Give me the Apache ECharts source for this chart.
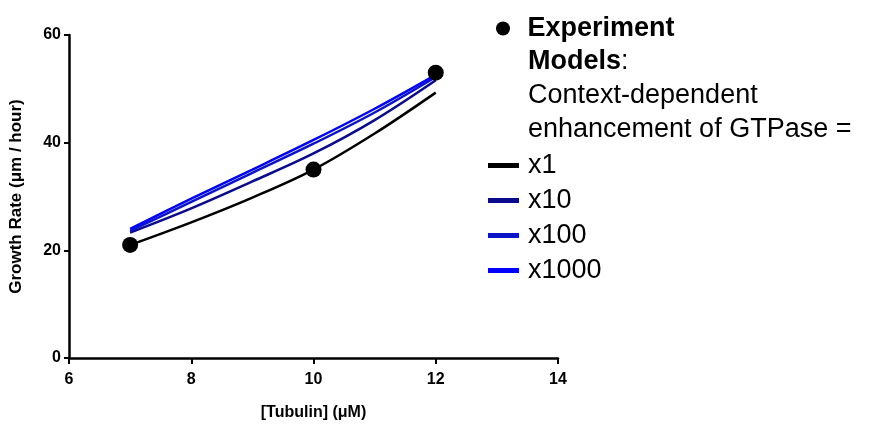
<!DOCTYPE html>
<html>
	<head>
		<meta charset="utf-8" />
		<title>Growth rate vs tubulin</title>
		<style type="text/css">
			html, body {margin:0;padding:0;background:#fff;}
			#chart {width:881px;height:430px;}
		</style>
	</head>
	<body>
		<div id="chart"></div>
		<script src="https://cdn.jsdelivr.net/npm/echarts@6/dist/echarts.min.js"></script>
		<script type="text/javascript">
			// data
			const tubulin = [7, 8, 9, 10, 11, 12];
			const expX = [7, 10, 12];
			const expY = [21, 35, 53];
			const modelX1 = [21.0, 25.2, 29.8, 35.0, 41.7, 49.3];
			const modelX10 = [23.3, 27.8, 32.8, 38.0, 44.2, 51.6];
			const modelX100 = [23.6, 29.0, 34.4, 39.8, 45.6, 52.2];
			const modelX1000 = [24.0, 29.6, 35.0, 40.5, 46.3, 52.6];
			const xTicks = [6, 8, 10, 12, 14];
			const yTicks = [0, 20, 40, 60];

			const FONT = "'Liberation Sans', Arial, sans-serif";
			const pair = (xs, ys) => xs.map((x, i) => [x, ys[i]]);

			const chart = echarts.init(document.getElementById('chart'));

			const lineSeries = (name, data, color) => ({
				name: name,
				type: 'line',
				smooth: 0.35,
				showSymbol: false,
				symbol: 'none',
				color: color,
				lineStyle: {width: 2.5, color: color},
				data: pair(tubulin, data),
				z: 3
			});

			const opt = {
				animation: false,
				textStyle: {fontFamily: FONT},
				grid: {left: 68, right: 323, top: 35, bottom: 72},
				legend: [{
					orient: 'vertical',
					left: 496,
					top: 15,
					padding: 0,
					itemWidth: 31,
					itemHeight: 14,
					icon: 'circle',
					data: ['Experiment'],
					textStyle: {fontFamily: FONT, fontSize: 27, fontWeight: 'bold', color: '#000', lineHeight: 27, padding: [0, 0, 0, 4]}
				}, {
					orient: 'vertical',
					left: 488,
					top: 152,
					padding: 0,
					itemWidth: 31,
					itemHeight: 5,
					itemGap: 8,
					icon: 'rect',
					data: ['x1', 'x10', 'x100', 'x1000'],
					textStyle: {fontFamily: FONT, fontSize: 27, color: '#000', lineHeight: 27, padding: [0, 0, 0, 4]}
				}],
				graphic: [{
					type: 'text',
					left: 528,
					top: 45,
					style: {
						text: '{b|Models}:\nContext-dependent\nenhancement of GTPase =',
						font: '27px ' + FONT,
						fill: '#000',
						lineHeight: 34,
						rich: {
							b: {fontWeight: 'bold', fontSize: 27, fontFamily: FONT, lineHeight: 34}
						}
					}
				}],
				xAxis: {
					type: 'value',
					min: xTicks[0],
					max: xTicks[xTicks.length - 1],
					interval: 2,
					name: '[Tubulin] (μM)',
					nameLocation: 'middle',
					nameGap: 47,
					nameTextStyle: {fontFamily: FONT, fontSize: 16, fontWeight: 'bold', color: '#000'},
					axisLine: {lineStyle: {color: '#000', width: 2.5}},
					axisTick: {length: 6, lineStyle: {color: '#000', width: 2}},
					axisLabel: {margin: 14, fontFamily: FONT, fontSize: 16, fontWeight: 'bold', color: '#000'},
					splitLine: {show: false}
				},
				yAxis: {
					type: 'value',
					min: yTicks[0],
					max: yTicks[yTicks.length - 1],
					interval: 20,
					name: 'Growth Rate (μm / hour)',
					nameLocation: 'middle',
					nameGap: 44,
					nameTextStyle: {fontFamily: FONT, fontSize: 17, fontWeight: 'bold', color: '#000'},
					axisLine: {lineStyle: {color: '#000', width: 2.5}},
					axisTick: {length: 5, lineStyle: {color: '#000', width: 2}},
					axisLabel: {margin: 8, fontFamily: FONT, fontSize: 16, fontWeight: 'bold', color: '#000'},
					splitLine: {show: false}
				},
				series: [
					lineSeries('x1', modelX1, '#000000'),
					lineSeries('x10', modelX10, '#0a0a8c'),
					lineSeries('x100', modelX100, '#0c14c8'),
					lineSeries('x1000', modelX1000, '#0000ff'),
					{
						name: 'Experiment',
						type: 'scatter',
						symbol: 'circle',
						symbolSize: 16,
						itemStyle: {color: '#000', opacity: 1},
						data: pair(expX, expY),
						z: 5
					}
				]
			};

			chart.setOption(opt);
		</script>
	</body>
</html>
